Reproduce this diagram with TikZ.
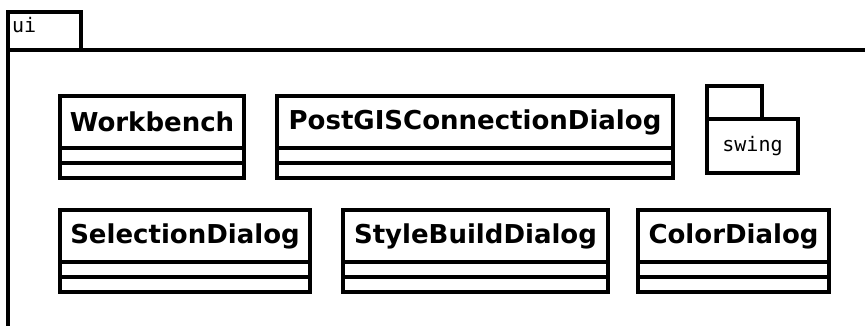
\documentclass[tikz,border=0pt]{standalone}
\usepackage{fontspec}
\setmainfont{DejaVu Sans}
\setmonofont{DejaVu Sans Mono}
\usepackage{tikz}
\usetikzlibrary{positioning}
\tikzset{
  clsname/.style = {rectangle, draw=black, line width=3.2pt, outer sep=0pt,
                    minimum height=52pt, inner sep=0pt,
                    font=\fontsize{26}{30}\selectfont\bfseries},
  clscomp/.style = {rectangle, draw=black, line width=3.2pt, outer sep=0pt,
                    minimum height=15pt, inner sep=0pt},
  pkgbody/.style = {rectangle, draw=black, line width=3.2pt, outer sep=0pt,
                    inner sep=0pt, font=\fontsize{20}{22}\selectfont\ttfamily},
  pkgtab/.style  = {rectangle, draw=black, line width=3.2pt, outer sep=0pt,
                    inner sep=0pt},
}

\begin{document}
\begin{tikzpicture}[x=1pt, y=-1pt]
  \useasboundingbox (0,0) rectangle (865,325);

  % package ui
  \coordinate (uicorner) at (8,50);
  \coordinate (uiend) at (870,50);
  \coordinate (uibottom) at (8,330);
  \node[pkgtab, minimum width=73pt, minimum height=38pt, anchor=south west] (uitab) at (uicorner) {};
  \node[anchor=base west, inner sep=0pt, font=\fontsize{20}{22}\selectfont\ttfamily] (uilabel) at (12,32) {ui};
  \draw[line width=3.2pt] (uibottom) -- (uicorner) -- (uiend);

  % first row
  \node[clsname, minimum width=184pt] (wb) at (152,122) {Workbench};
  \node[clscomp, minimum width=184pt, below=0pt of wb] (wbattr) {};
  \node[clscomp, minimum width=184pt, below=0pt of wbattr] (wbops) {};

  \node[clsname, minimum width=396pt, right=33pt of wb] (pg) {PostGISConnectionDialog};
  \node[clscomp, minimum width=396pt, below=0pt of pg] (pgattr) {};
  \node[clscomp, minimum width=396pt, below=0pt of pgattr] (pgops) {};

  \node[pkgbody, minimum width=91pt, minimum height=54pt] (swing) at (752.5,146) {swing};
  \node[pkgtab, minimum width=55pt, minimum height=33pt, anchor=south west] (swingtab) at (swing.north west) {};

  % second row
  \node[clsname, minimum width=250pt] (sel) at (185,236) {SelectionDialog};
  \node[clscomp, minimum width=250pt, below=0pt of sel] (selattr) {};
  \node[clscomp, minimum width=250pt, below=0pt of selattr] (selops) {};

  \node[clsname, minimum width=265pt, right=33pt of sel] (sb) {StyleBuildDialog};
  \node[clscomp, minimum width=265pt, below=0pt of sb] (sbattr) {};
  \node[clscomp, minimum width=265pt, below=0pt of sbattr] (sbops) {};

  \node[clsname, minimum width=191pt, right=30pt of sb] (cd) {ColorDialog};
  \node[clscomp, minimum width=191pt, below=0pt of cd] (cdattr) {};
  \node[clscomp, minimum width=191pt, below=0pt of cdattr] (cdops) {};

\end{tikzpicture}
\end{document}
